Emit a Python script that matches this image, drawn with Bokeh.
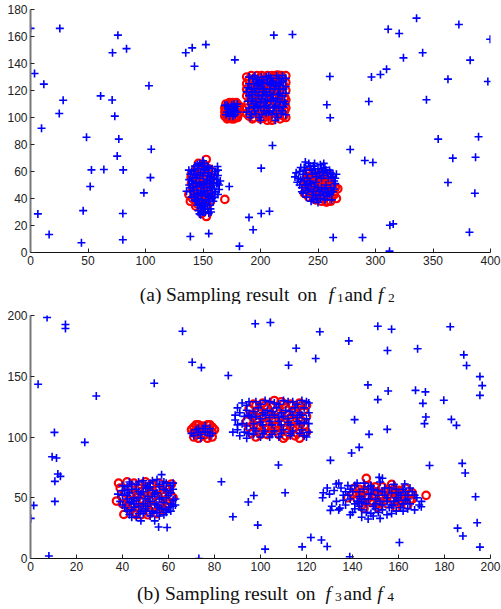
from bokeh.plotting import figure
from bokeh.layouts import column
from bokeh.models import Range1d, FixedTicker
from bokeh.core.properties import value
from bokeh.embed import file_html
from bokeh.resources import INLINE

# ---------------- Panel (a): f1 / f2 ----------------
a_blue_scatter = [(0,166),(25.5,166),(3.5,132.6),(11.6,124.7),(28.4,112.8),(25,103),(9.6,92),(48.7,85.4),
    (76,161),(71.3,148),(83.5,151),(61,116),(71,113),(73.3,101),(76.8,84),(103,123.5),(105,76.5),
    (135,148),(140.6,151.6),(152.5,154),(142.6,138),(177.7,142.7),(75.4,71.4),(53,61.2),(63.8,61.5),
    (80.6,61.2),(104.3,55.5),(51.9,48.9),(98.6,44.2),(6.4,28.6),(45.8,31),(80.3,28.9),(16.2,13.3),
    (44.3,7.2),(80.3,9.4),(139,11.9),(155,14),(172.8,48.9),(181.7,4.7),(190,26),(211.6,161),
    (227.8,161.5),(311,165.4),(320.6,162.2),(335.7,173.6),(372.5,168.9),(399.7,158),(341,148),
    (324.3,144.2),(382.3,142.5),(309.6,135.8),(304.3,131.9),(296.5,130),(260.3,130.4),(363,128.4),
    (397.7,126.7),(257.7,109.4),(294.2,111.9),(260.6,99.8),(344.3,113.1),(354.5,84),(389.6,85.7),
    (210.4,79.3),(278,76.3),(290.7,68.1),(297.7,66.7),(200.6,62.5),(367.2,69.9),(387,70.6),(363,51.9),
    (386.4,43.9),(200.6,28.9),(207.8,30.6),(193.6,16.8),(312.5,20.2),(315.4,21.2),(381.7,15),
    (263.2,11.1),(288.7,11.1),(312.2,1)]
a_blue_c1 = [(140,60),(143,58),(146,62),(149,64),(152,61),(155,59),(158,62),(161,60),(163,57),(141,55),
    (144,52),(147,55),(150,57),(153,54),(156,53),(159,55),(162,51),(138,50),(141,48),(145,49),(148,50),
    (151,48),(154,46),(157,48),(160,47),(164,50),(139,45),(142,43),(146,44),(149,42),(152,43),(155,41),
    (158,44),(161,45),(144,38),(147,36),(150,37),(153,39),(156,35),(159,38),(146,31),(149,33),(152,30),
    (155,29),(148,28),(143,41),(151,52),(154,57),(148,46),(157,51),(137.7,61),(162.6,63.7),(162.9,51.3),
    (135.7,45.4),(164,46.7),(147,28.6),(156.5,32.3),(154.8,62.7),(140,53),(145,65),(151,66),
    (139,58),(142,61),(145,57),(148,59),(151,62),(154,64),(157,56),(160,58),(163,61),(138,54),(141,51),
    (144,55),(147,51),(150,50),(153,51),(156,49),(159,52),(162,54),(165,53),(139,48),(142,46),(145,43),
    (148,44),(151,45),(154,43),(157,42),(160,41),(163,43),(140,41),(143,39),(146,40),(149,39),(152,36),
    (155,38),(158,40),(145,35),(148,33),(151,34),(154,32),(157,30),(150,30),(147,66),(150,68),(143,64)]
a_red_c1 = [(152.8,68.9),(148.7,64.4),(147.2,59.8),(139.7,55.8),(155,58.3),(158,60),(140,50.9),
    (145,47.2),(152,49.6),(153,42.2),(137.7,43),(143.5,38.5),(143.7,34.3),(151.6,31.9),(153,26.7),
    (169,39.3),(156.5,37.8),(146,53),(150,55),(142,45),(147,41),(153,54),(155,46),(149,60),(151,65),
    (144,62),(156,52),(141,40),(148,48),(140,58),(143,55),(146,57),(149,52),(152,57),(155,62),(141,47),
    (144,50),(147,45),(150,44),(153,46),(156,42),(139,38),(145,36),(148,39),(151,40),(154,35),(149,29),
    (157,55),(146,66),(150,62)]
a_blue_c2 = [(170,102),(172,106),(174,103),(176,105),(178,102),(179,108),(171,109),(175,109),(173,101),
    (177,106),(180,104),(171,104),(173,106),(176,101),(178,105),(175,104),(172,108),(177,110),(180,110),
    (169,109)]
a_red_c2 = [(169,101),(169,104),(169,107),(170,110),(173,111),(176,111),(179,111),(181,109),(181,106),
    (181,103),(180,100),(177,99),(174,100),(171,99),(172,104),(175,106),(178,104),(173,108),(177,108),
    (170,102),(170,106),(172,110),(178,110),(180,107),(180,101),(175,99),(172,100),(176,103),(174,109)]
a_blue_c3 = [(192,102),(196,103),(201,102),(205,103),(210,102),(214,103),(218,103),(190,107),(194,108),
    (198,107),(203,108),(207,107),(212,108),(216,107),(220,108),(192,112),(196,112),(200,111),(204,112),
    (209,112),(213,112),(217,111),(221,112),(190,116),(193,117),(198,116),(202,117),(206,116),(211,117),
    (215,117),(219,116),(192,121),(195,121),(199,121),(203,121),(208,121),(212,121),(216,121),(220,121),
    (190,125),(194,125),(198,126),(202,125),(206,126),(210,126),(214,125),(218,126),(193,129),(197,128),
    (201,130),(205,130),(209,129),(216,129),(220,127),(188,104),(188,119),(222,118),(200,98),(213,98),
    (191,100),(195,105),(199,100),(203,105),(207,104),(211,105),(215,100),(219,105),(222,102),
    (189,112),(193,114),(197,109),(201,114),(205,109),(209,117),(213,109),(217,118),(222,110),
    (189,122),(193,119),(197,124),(201,123),(205,119),(209,124),(213,123),(217,124),(222,123),
    (190,130),(195,131),(199,127),(203,128),(207,131),(211,127),(214,131),(219,131),(222,129),
    (194,110),(200,108),(206,113),(211,114),(196,119),(203,119),(208,125),(215,114)]
a_red_c3 = [(190,101),(194,100),(198,102),(203,100),(207,101),(212,100),(216,102),(220,101),(191,105),
    (196,106),(200,104),(205,106),(209,105),(214,104),(218,106),(221,105),(189,110),(193,109),(198,111),
    (202,109),(206,111),(211,110),(215,108),(219,111),(191,114),(195,115),(199,113),(204,115),(208,114),
    (213,116),(217,114),(221,115),(190,119),(194,118),(197,120),(201,119),(206,118),(210,120),(214,119),
    (219,118),(192,123),(196,124),(200,122),(204,124),(209,123),(212,125),(216,123),(220,124),(190,128),
    (194,127),(199,129),(203,127),(207,128),(211,129),(215,127),(219,129),(197,131),(210,131),(213,131),
    (218,131),(188,103),(188,107),(188,116),(188,121),(188,125),(188,130),(222,100),(222,107),(222,113),
    (222,120),(222,126),(222,131),(192,131),(201,131),(206,131),(215,131.5),(193,99),(200,99),(206,98),
    (210,98),(217,99),(196,110),(203,113),(210,115),(198,118),(207,124),(213,121),(201,106),(214,110)]
a_blue_c4 = [(230,56),(232,52),(234,60),(236,48),(238,63),(240,58),(242,66),(244,61),(246,64),(248,59),
    (250,62),(252,65),(254,60),(256,63),(258,59),(260,61),(262,56),(264,53),(266,58),(235,54),(237,44),
    (239,50),(241,46),(243,53),(245,43),(247,49),(249,40),(251,46),(253,55),(255,42),(257,50),(259,44),
    (261,48),(263,45),(265,51),(244,38),(250,37),(256,39),(262,39),(248,52),(240,41),(253,48),
    (231,59),(233,55),(235,63),(237,58),(239,61),(241,55),(243,64),(245,58),(247,62),(249,56),(251,59),
    (253,62),(255,57),(257,61),(259,55),(261,59),(263,58),(265,55),(234,50),(236,45),(238,53),(240,50),
    (242,47),(244,51),(246,45),(248,42),(250,48),(252,43),(254,45),(256,47),(258,42),(260,43),(262,45),
    (264,47),(246,39),(252,40),(258,45),(247,66),(255,66),(239,67)]
a_red_c4 = [(240,55),(244,57),(248,56),(252,58),(256,55),(260,57),(238,51),(242,52),(246,50),(250,53),
    (254,51),(258,52),(262,50),(265,48),(240,47),(244,46),(248,45),(252,47),(256,45),(260,46),(264,43),
    (242,41),(246,40),(250,42),(254,40),(258,38),(262,41),(266,40),(238,44),(250,49),(245,54),(255,49),
    (257.4,37.3),(267.2,47.2),(239,43.5),(241,59.5),(242,56),(246,58),(250,56),(254,57),(258,56),(240,52),
    (244,49),(248,53),(252,52),(256,50),(260,53),(263,47),(243,44),(247,43),(251,45),(255,43),(259,43),
    (248,39),(253,38),(261,38)]
a_xticks = [0, 50, 100, 150, 200, 250, 300, 350, 400]
a_yticks = [0, 20, 40, 60, 80, 100, 120, 140, 160, 180]
a_caption_words = ["(a)", "Sampling", "result", "on", "and"]
a_caption_italic = ["f", "f"]
a_caption_subs = ["1", "2"]

# ---------------- Panel (b): f3 / f4 ----------------
b_blue_scatter = [(7.2,198.3),(15.2,192.6),(15.2,189.3),(3.3,143.4),(28.6,133.8),(10.4,103.8),(23.6,95.6),
    (66.1,187),(70.3,161.5),(74.3,157.1),(53.8,144.2),(86,150.6),(97.7,193.2),(104.3,194.2),(125.8,186.6),
    (151,191.2),(157,188.7),(182.5,190.7),(138.4,179.1),(115.5,173.1),(155.2,171.2),(168.3,172.6),
    (124,164.6),(112.2,159),(188.4,167.6),(189.6,158.8),(195.4,149.7),(196.4,142.3),(195.4,134.3),
    (146.7,142.9),(155.5,137.9),(167.4,138.4),(171.7,137.1),(151,130.8),(170.6,127.7),(179.7,130.2),
    (140.9,114.3),(155.1,106.3),(147.2,102.2),(171.9,116.5),(171.3,111),(183,114.5),(185.2,109.6),
    (142.9,91.5),(139.6,86.8),(130.4,80.8),(107.8,77),(173.5,76.6),(187.7,78.3),(189,70.4),(110.7,54.1),
    (193.5,50.8),(97.1,51.9),(98.8,27.5),(102,7.7),(121.9,17.3),(126.5,15.2),(129,9.9),(118.1,9.6),
    (138.8,1.4),(160.4,13.2),(185.7,25),(188,18.5),(194.2,29.4),(195.4,9.4),(169.9,42.6),(9.4,83.8),
    (11.3,82.7),(11.9,69.5),(13,67.6),(10.6,63.5),(10.6,47),(1.4,43.7),(0.1,33),(8,2),(73.2,0),(83,63.2),
    (88,34.4),(94.7,46.5)]
b_blue_c1 = [(40,60),(43,63),(46,61),(49,64),(52,62),(55,65),(58,63),(61,60),(57,69),(41,56),(44,57),
    (47,55),(50,58),(53,56),(56,59),(59,56),(62,57),(42,52),(45,50),(48,53),(51,51),(54,53),(57,50),(60,52),
    (63,49),(39,47),(43,46),(46,48),(49,45),(52,47),(55,44),(58,46),(61,45),(41,42),(44,40),(47,43),(50,41),
    (53,39),(56,42),(59,40),(62,43),(43,36),(46,34),(49,37),(52,35),(55,38),(58,36),(48,31),(54,31),
    (55.7,25.9),(59.4,25.5),(38,53),(45,45),(51,58),(40,56),(42,59),(44,61),(47,63),(50,60),(53,64),(56,61),
    (59,62),(62,62),(40,52),(43,54),(46,57),(49,55),(52,59),(55,54),(58,57),(61,54),(40,44),(42,49),(44,47),
    (47,50),(50,49),(53,51),(56,49),(59,50),(62,48),(42,39),(45,42),(48,39),(51,43),(54,45),(57,41),(60,42),
    (63,44),(44,34),(47,37),(50,39),(53,37),(56,35),(59,38),(61,39)]
b_red_c1 = [(37.4,47.3),(40.6,36.3),(38.3,62),(61.3,61.3),(42,63),(45,62),(50,63),(53,61),(56,62),(59,60),
    (41,54),(44,52),(47,58),(52,55),(55,57),(58,54),(61,52),(40,50),(43,48),(46,50),(49,47),(53,49),(56,47),
    (59,48),(44,43),(47,41),(50,44),(54,42),(57,44),(60,45),(45,38),(48,36),(51,36),(55,37),(58,40),(42,44),
    (51,52),(39,58),(44,59),(48,61),(52,60),(56,58),(60,57),(40,45),(46,53),(50,55),(54,52),(58,51),(62,50),
    (43,40),(49,42),(53,44),(56,40),(46,36),(52,38),(59,43),(48,49)]
b_blue_c2 = [(72,106),(74,102),(75,107),(77,104),(78,107),(73,104),(76,109),(78,101),(70,103),(74,99),
    (71,101),(76,104),(79,103),(73,107)]
b_red_c2 = [(71,100),(71,104),(71,108),(73,110),(75,109),(77,110),(79,108),(79,104),(79,100),(77,99),
    (75,101),(73,99),(74,105),(76,106),(78,103),(72,102),(76,102),(72,110),(78,110),(70,106),(80,106),(74,108)]
b_blue_c3 = [(90,124),(92,128),(94,126),(98,129),(102,130),(106,128),(110,130),(114,129),(118,130),(121,128),
    (91,120),(93,117),(97,121),(101,120),(105,121),(109,120),(113,121),(117,120),(121,120),(89,114),(92,111),
    (96,116),(100,115),(104,116),(108,116),(112,115),(116,116),(120,115),(90,106),(93,104),(97,111),(101,110),
    (105,110),(109,110),(113,110),(117,111),(121,111),(91,101),(94,99),(98,105),(102,105),(106,105),(110,106),
    (114,105),(118,106),(121,104),(100,100),(104,100),(108,100),(113,101),(119,101),
    (95,129),(100,127),(104,129),(108,127),(112,129),(116,127),(120,129),(94,122),(99,124),(103,122),(107,124),
    (111,122),(115,124),(119,124),(95,118),(98,117),(102,118),(106,118),(110,117),(114,118),(118,118),(94,109),
    (97,107),(100,112),(104,113),(108,113),(112,112),(116,113),(119,112),(95,103),(97,102),(101,103),(105,102),
    (109,103),(113,103),(117,103),(120,100),(89,118),(90,110),(88,104)]
b_red_c3 = [(97,127),(101,128),(105,126),(109,129),(113,127),(117,128),(120,126),(95,123),(99,122),(103,124),
    (107,122),(111,124),(115,123),(119,122),(96,118),(100,119),(104,117),(108,119),(112,118),(116,119),(120,117),
    (94,113),(98,114),(102,112),(106,114),(110,112),(114,114),(118,113),(95,108),(99,109),(103,107),(107,109),
    (111,107),(115,108),(119,109),(96,103),(100,102),(104,104),(108,102),(112,104),(116,103),(120,104),(98,100),
    (110,99),(117,99),(98,126),(102,126),(106,130),(110,127),(114,126),(118,126),(97,117),(101,116),(105,115),
    (109,117),(113,116),(117,116),(97,110),(101,111),(105,108),(109,111),(113,109),(117,109),(99,104),(103,102),
    (107,105),(111,101),(115,101),(119,103)]
b_blue_c4 = [(127,50),(130,53),(132,56),(133,47),(135,58),(136,52),(137,44),(138,60),(139,49),(140,55),(141,41),
    (142,62),(143,51),(144,46),(145,57),(146,38),(147,53),(148,60),(149,43),(150,49),(151,56),(152,63),(153,40),
    (154,52),(155,47),(156,58),(157,44),(158,61),(159,50),(160,54),(161,42),(162,57),(163,48),(164,52),(165,45),
    (166,55),(168,50),(170,47),(131,43),(134,40),(139,36),(144,34),(149,35),(152,33),(157,37),(162,39),(167,40),
    (129,58),(134,62),(145,49),(150,45),(153,55),(158,47),(137,55),(142,47),(147,59),(130.4,39.6),(134.5,41.5),
    (132.9,61.3),(127.3,54.1),(162.7,61.3),(146.8,32.5),(151.2,37.9),(151.6,66.8),(153,66),
    (136,48),(138,52),(139,57),(141,45),(141,60),(143,43),(143,55),(144,49),(145,62),(146,45),(147,49),(148,53),
    (149,57),(150,41),(151,52),(152,47),(153,44),(154,58),(155,50),(156,42),(157,54),(158,44),(159,57),(160,48),
    (161,52),(162,45),(163,55),(164,49),(165,58),(167,52),(169,44),(140,38),(144,40),(148,37),(155,36),(159,39),
    (164,41)]
b_red_c4 = [(146,66),(172,52),(140,53),(142,49),(143,57),(144,44),(146,52),(147,60),(148,46),(150,55),(151,42),
    (152,50),(153,59),(155,45),(156,53),(157,61),(158,48),(159,42),(160,56),(161,51),(162,47),(163,58),(164,44),
    (165,53),(166,49),(141,58),(145,41),(149,51),(154,55),(158,53),(160,45),(138,50),(144,48),(148,57),(152,46),
    (162,53),(166,54),(142,53),(145,56),(147,50),(149,47),(150,59),(151,45),(153,52),(155,56),(157,50),(158,57),
    (160,51),(161,46),(163,50),(165,48),(144,52),(154,48),(159,55),(150,52)]
b_xticks = [0, 20, 40, 60, 80, 100, 120, 140, 160, 180, 200]
b_yticks = [0, 50, 100, 150, 200]
b_caption_words = ["(b)", "Sampling", "result", "on", "and"]
b_caption_italic = ["f", "f"]
b_caption_subs = ["3", "4"]


def xy(*groups):
    pts = [pt for g in groups for pt in g]
    return [p[0] for p in pts], [p[1] for p in pts]


def panel(blue, red, xr, yr, xticks, yticks, height, btop, bbot):
    p = figure(width=501, height=height, x_range=Range1d(*xr), y_range=Range1d(*yr),
               output_backend="svg", toolbar_location=None,
               min_border_left=30, min_border_right=11,
               min_border_top=btop, min_border_bottom=bbot)
    p.outline_line_color = None
    p.grid.visible = False
    for ax, ticks in ((p.xaxis[0], xticks), (p.yaxis[0], yticks)):
        ax.ticker = FixedTicker(ticks=ticks)
        ax.major_tick_in = 4
        ax.major_tick_out = 0
        ax.minor_tick_line_color = None
        ax.major_label_text_font = "Liberation Sans"
        ax.major_label_text_font_size = "12px"
        ax.major_label_text_color = "#222222"
        ax.major_tick_line_color = "#222222"
        ax.major_label_standoff = 3
    p.xaxis[0].axis_line_color = "#111111"
    p.yaxis[0].axis_line_color = "#777777"
    p.yaxis[0].axis_line_width = 2

    rx, ry = xy(*red)
    bx, by = xy(*blue)
    p.scatter(rx, ry, marker="circle", size=7.5, fill_color=None,
              line_color="#ff0000", line_width=2.2)
    p.scatter(bx, by, marker="cross", size=8, line_color="#0000ff", line_width=1.6)
    return p


def caption(words, word_x, italics, ital_x, subs, sub_x, height, base_y, sub_y):
    # a strip whose ranges are in pixels, used only to typeset the caption
    c = figure(width=501, height=height, x_range=Range1d(0, 501), y_range=Range1d(0, height),
               output_backend="svg", toolbar_location=None,
               min_border_left=0, min_border_right=0,
               min_border_top=0, min_border_bottom=0)
    c.axis.visible = False
    c.grid.visible = False
    c.outline_line_color = None
    common = dict(text_font=value("Liberation Serif"), text_color="#111111",
                  text_baseline="alphabetic", text_align="center")
    c.text(x=word_x, y=[base_y] * len(words), text=words,
           text_font_size=value("19.5px"), **common)
    c.text(x=ital_x, y=[base_y] * len(italics), text=italics,
           text_font_size=value("19.5px"), text_font_style="italic", **common)
    c.text(x=sub_x, y=[sub_y] * len(subs), text=subs,
           text_font_size=value("13.5px"), **common)
    return c


pa = panel([a_blue_scatter, a_blue_c1, a_blue_c2, a_blue_c3, a_blue_c4],
           [a_red_c1, a_red_c2, a_red_c3, a_red_c4],
           (0, 400), (0, 180), a_xticks, a_yticks, 270, 9, 18)
ca = caption(a_caption_words, [130.8, 188.3, 258.3, 301.3, 357.2],
             a_caption_italic, [327.5, 381.5], a_caption_subs, [337.5, 393], 34, 10, 7)
pb = panel([b_blue_scatter, b_blue_c1, b_blue_c2, b_blue_c3, b_blue_c4],
           [b_red_c1, b_red_c2, b_red_c3, b_red_c4],
           (0, 200), (0, 200), b_xticks, b_yticks, 272, 11, 18)
cb = caption(b_caption_words, [128.3, 187.2, 256.7, 299.7, 356.3],
             b_caption_italic, [324.3, 380.5], b_caption_subs, [335.2, 392.2], 33, 15.7, 12.3)

layout = column(pa, ca, pb, cb, spacing=0)
open("out.html", "w").write(file_html(layout, INLINE))
